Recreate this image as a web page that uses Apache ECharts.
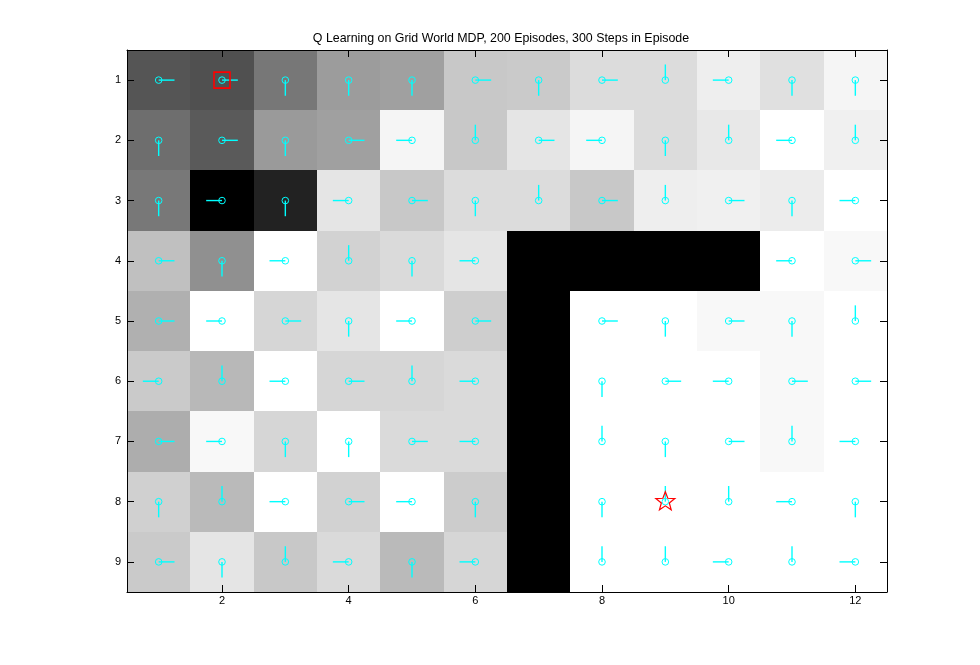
<!DOCTYPE html>
<html>
<head>
<meta charset="utf-8">
<script src="https://cdn.jsdelivr.net/npm/echarts@6/dist/echarts.min.js"></script>
<style>
  html, body { margin: 0; padding: 0; background: #fff; }
  #main { width: 980px; height: 665px; }
</style>
</head>
<body>
<div id="main"></div>
<script>
// grey level of every cell (0 = black, 255 = white), one array per row
var grayRows = [
  [ 85,  80, 119, 156, 160, 200, 202, 220, 220, 238, 224, 245],
  [110,  90, 154, 160, 245, 200, 229, 245, 220, 232, 255, 240],
  [120,   0,  34, 229, 200, 220, 220, 200, 238, 240, 236, 255],
  [192, 144, 255, 210, 218, 229,   0,   0,   0,   0, 255, 248],
  [176, 255, 214, 229, 255, 206,   0, 255, 255, 248, 248, 255],
  [202, 184, 255, 214, 214, 218,   0, 255, 255, 255, 248, 255],
  [173, 248, 214, 255, 218, 218,   0, 255, 255, 255, 248, 255],
  [208, 186, 255, 210, 255, 204,   0, 255, 255, 255, 255, 255],
  [202, 229, 200, 218, 186, 214,   0, 255, 255, 255, 255, 255]
];
// greedy action per cell: R right, L left, U up, D down, '.' wall
var dirRows = [
  'RRDDDRDRULDD',
  'DRDRLURLDULU',
  'DLDLRDURURDL',
  'RDLUDL....LR',
  'RLRDLR.RDRDU',
  'LULRUL.DRLRR',
  'RLDDRL.UDRUL',
  'DULRLD.DUULD',
  'RDULDL.UULUL'
];
var startCell = [2, 1];
var goalCell = [9, 8];
var xTicks = [2, 4, 6, 8, 10, 12];
var yTicks = [1, 2, 3, 4, 5, 6, 7, 8, 9];

var ARROW = 0.25;
var dirVec = { R: [1, 0], L: [-1, 0], U: [0, -1], D: [0, 1] };

var cells = [];
var arrows = [];
grayRows.forEach(function (row, r) {
  row.forEach(function (g, c) {
    cells.push([c + 1, r + 1, g]);
    var d = dirRows[r].charAt(c);
    if (dirVec[d]) arrows.push([c + 1, r + 1, dirVec[d][0], dirVec[d][1]]);
  });
});

var chart = echarts.init(document.getElementById('main'));

var axisFont = { fontFamily: 'Liberation Sans', fontSize: 11, color: '#000' };

function boxAxis(pos, ticks, range, showLabel, margin) {
  return {
    type: 'value', position: pos, min: range[0], max: range[1],
    inverse: pos === 'left' || pos === 'right',
    z: 10,
    axisLine: { show: true, onZero: false, lineStyle: { color: '#000', width: 1 } },
    axisTick: { show: true, inside: true, length: 7, customValues: ticks, lineStyle: { color: '#000' } },
    axisLabel: showLabel ? Object.assign({ customValues: ticks, margin: margin }, axisFont) : { show: false },
    splitLine: { show: false }
  };
}

chart.setOption({
  animation: false,
  title: {
    text: 'Q Learning on Grid World MDP, 200 Episodes, 300 Steps in Episode',
    left: 496, top: 28, textAlign: 'center',
    textStyle: { fontFamily: 'Liberation Sans', fontSize: 12.4, fontWeight: 'normal', color: '#000' }
  },
  grid: { left: 127, right: 93, top: 50, bottom: 73, show: false },
  xAxis: [
    boxAxis('bottom', xTicks, [0.5, 12.5], true, 3),
    boxAxis('top', xTicks, [0.5, 12.5], false)
  ],
  yAxis: [
    boxAxis('left', yTicks, [0.5, 9.5], true, 6),
    boxAxis('right', yTicks, [0.5, 9.5], false)
  ],
  series: [
    {
      name: 'value',
      type: 'custom',
      xAxisIndex: 0, yAxisIndex: 0,
      z: 1,
      data: cells,
      renderItem: function (params, api) {
        var x = api.value(0), y = api.value(1), g = api.value(2);
        var p0 = api.coord([x - 0.5, y - 0.5]);
        var p1 = api.coord([x + 0.5, y + 0.5]);
        var x0 = Math.round(Math.min(p0[0], p1[0]));
        var y0 = Math.round(Math.min(p0[1], p1[1]));
        var x1 = Math.round(Math.max(p0[0], p1[0]));
        var y1 = Math.round(Math.max(p0[1], p1[1]));
        return {
          type: 'rect',
          shape: { x: x0, y: y0, width: x1 - x0, height: y1 - y0 },
          style: { fill: 'rgb(' + g + ',' + g + ',' + g + ')', stroke: null }
        };
      }
    },
    {
      name: 'policy',
      type: 'custom',
      xAxisIndex: 0, yAxisIndex: 0,
      z: 3,
      data: arrows,
      renderItem: function (params, api) {
        var x = api.value(0), y = api.value(1);
        var dx = api.value(2), dy = api.value(3);
        var c = api.coord([x, y]);
        var e = api.coord([x + dx * ARROW, y + dy * ARROW * 1.04]);
        return {
          type: 'group',
          children: [
            {
              type: 'line',
              shape: { x1: c[0], y1: c[1], x2: e[0], y2: e[1] },
              style: { stroke: '#00ffff', lineWidth: 1.4 }
            },
            {
              type: 'circle',
              shape: { cx: c[0], cy: c[1], r: 3.3 },
              style: { fill: null, stroke: '#00ffff', lineWidth: 1 }
            }
          ]
        };
      }
    },
    {
      name: 'start',
      type: 'custom',
      xAxisIndex: 0, yAxisIndex: 0,
      z: 4,
      data: [startCell],
      renderItem: function (params, api) {
        var c = api.coord([api.value(0), api.value(1)]);
        return {
          type: 'rect',
          shape: { x: c[0] - 8, y: c[1] - 8, width: 16, height: 16 },
          style: { fill: null, stroke: '#ff0000', lineWidth: 1.6 }
        };
      }
    },
    {
      name: 'goal',
      type: 'custom',
      xAxisIndex: 0, yAxisIndex: 0,
      z: 4,
      data: [goalCell],
      renderItem: function (params, api) {
        var c = api.coord([api.value(0), api.value(1)]);
        var pts = [];
        for (var i = 0; i < 10; i++) {
          var r = i % 2 === 0 ? 10 : 4.2;
          var a = -Math.PI / 2 + i * Math.PI / 5;
          pts.push([c[0] + r * Math.cos(a), c[1] + r * Math.sin(a)]);
        }
        return {
          type: 'polygon',
          shape: { points: pts },
          style: { fill: null, stroke: '#ff0000', lineWidth: 1.2 }
        };
      }
    }
  ]
});
</script>
</body>
</html>
